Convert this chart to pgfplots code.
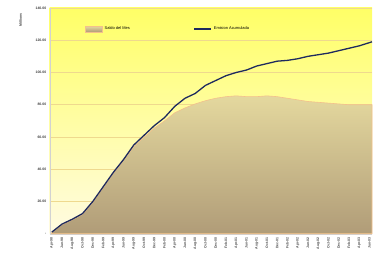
\documentclass[border=0pt]{standalone}
\usepackage{pgfplots}
\pgfplotsset{compat=1.18}
\usepackage{fontspec}
\setmainfont{Liberation Sans}
\definecolor{bgtop}{HTML}{FFFF66}
\definecolor{bgbot}{HTML}{FFFBE2}
\definecolor{areatop}{HTML}{E4D89E}
\definecolor{areabot}{HTML}{B09C78}
\definecolor{saldoline}{HTML}{F3C08C}
\definecolor{emis}{HTML}{1E2A5E}
\definecolor{gridc}{HTML}{EFD98E}
\begin{document}
\begin{tikzpicture}[x=1pt,y=1pt]
\begin{axis}[
  name=ax,
  scale only axis, width=324pt, height=227pt,
  xmin=-0.4, xmax=62.5, ymin=0, ymax=140,
  axis background/.style={top color=bgtop, bottom color=bgbot},
  axis line style={gray!35},
  axis x line*=bottom, axis y line*=left,
  ytick={0,20,40,60,80,100,120,140},
  yticklabels={-,20.00,40.00,60.00,80.00,100.00,120.00,140.00},
  yticklabel style={font=\fontsize{3.5}{4}\selectfont\bfseries, text=black!75},
  ymajorgrids, grid style={gridc, line width=0.5pt},
  xtick={0,2,...,62},
  xticklabels={Apr-98,Jun-98,Aug-98,Oct-98,Dec-98,Feb-99,Apr-99,Jun-99,Aug-99,Oct-99,Dec-99,Feb-00,Apr-00,Jun-00,Aug-00,Oct-00,Dec-00,Feb-01,Apr-01,Jun-01,Aug-01,Oct-01,Dec-01,Feb-02,Apr-02,Jun-02,Aug-02,Oct-02,Dec-02,Feb-03,Apr-03,Jun-03},
  xticklabel style={rotate=90, anchor=east, font=\fontsize{3.5}{4}\selectfont\bfseries, text=black!70},
  major tick length=0pt,
  legend style={at={(0.1,0.935)}, anchor=north west, draw=none, fill=none, legend columns=2, font=\fontsize{4}{5}\selectfont, /tikz/every even column/.append style={column sep=62pt}},
  legend cell align=left,
  clip=false,
]
\addplot[draw=saldoline, line width=0.6pt, top color=areatop, bottom color=areabot, area legend] coordinates {
(0,0.8) (2,5.6) (4,8.6) (6,12) (8,19.5) (10,28.5) (12,37.5) (14,45.5) (16,54) (18,59.8)
(20,65.5) (22,70) (24,75) (26,78) (28,80.5) (30,82.5) (32,84) (34,85) (36,85.5) (38,85)
(40,85) (42,85.5) (44,85) (46,84) (48,83) (50,82) (52,81.5) (54,81) (56,80.5) (58,80)
(60,80) (62,80) (62.5,80)} \closedcycle;
\addlegendentry{Saldo del Mes}
\addplot[emis, line width=1.3pt] coordinates {
(0,1) (2,6) (4,9) (6,12.5) (8,20) (10,29) (12,38) (14,46) (16,55) (18,61)
(20,67) (22,72) (24,79) (26,84) (28,87) (30,92) (32,95) (34,98) (36,100) (38,101.5)
(40,104) (42,105.5) (44,107) (46,107.5) (48,108.5) (50,110) (52,111) (54,112) (56,113.5) (58,115)
(60,116.5) (62,118.5) (62.5,119)};
\addlegendentry{Emision Acumulada}
\node[rotate=90, font=\fontsize{3.5}{4}\selectfont\bfseries, text=black!75] at (axis description cs:-0.09,0.947) {Millions};
\end{axis}
\path (ax.south west) ++(-50pt,-19pt) rectangle ++(374pt,254pt);
\end{tikzpicture}
\end{document}
